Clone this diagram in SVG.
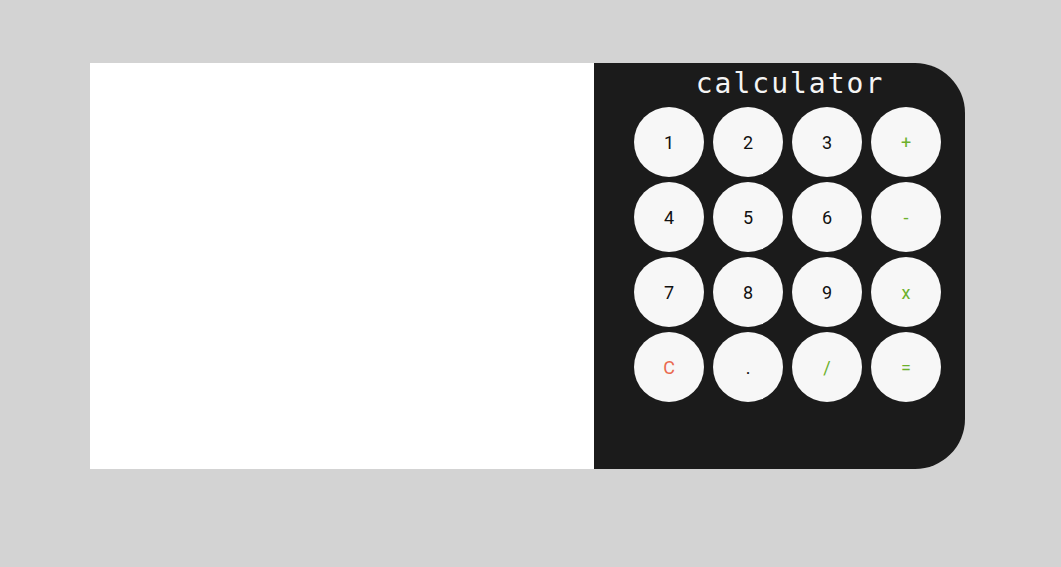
<svg xmlns="http://www.w3.org/2000/svg" width="1061" height="567" viewBox="0 0 1061 567">
<style>
.btn circle{fill:#f7f7f7}
.btn text{font-family:Roboto,"Liberation Sans",sans-serif;font-size:18px;text-anchor:middle;fill:#111}
.btn text.op{fill:#6cb12c}
.btn text.clr{fill:#ea6a4f}
.title{font-family:"DejaVu Sans Mono","Liberation Mono",monospace;font-size:28px;fill:#f4f4f4;text-anchor:middle;letter-spacing:2px}
</style>
<rect width="1061" height="567" fill="#d3d3d3"/>
<g id="display"><rect x="90" y="63" width="505" height="406" fill="#ffffff"/></g>
<g id="calculator">
<path d="M594 63 H915 A50 50 0 0 1 965 113 V419 A50 50 0 0 1 915 469 H594 Z" fill="#1b1b1b"/>
<text class="title" x="790" y="93">calculator</text>
</g>
<g id="b1" class="btn"><circle cx="669" cy="142" r="35"/><text x="669" y="149">1</text></g>
<g id="b2" class="btn"><circle cx="748" cy="142" r="35"/><text x="748" y="149">2</text></g>
<g id="b3" class="btn"><circle cx="827" cy="142" r="35"/><text x="827" y="149">3</text></g>
<g id="bplus" class="btn"><circle cx="906" cy="142" r="35"/><text class="op" x="906" y="149">+</text></g>
<g id="b4" class="btn"><circle cx="669" cy="217" r="35"/><text x="669" y="224">4</text></g>
<g id="b5" class="btn"><circle cx="748" cy="217" r="35"/><text x="748" y="224">5</text></g>
<g id="b6" class="btn"><circle cx="827" cy="217" r="35"/><text x="827" y="224">6</text></g>
<g id="bminus" class="btn"><circle cx="906" cy="217" r="35"/><text class="op" x="906" y="224">-</text></g>
<g id="b7" class="btn"><circle cx="669" cy="292" r="35"/><text x="669" y="299">7</text></g>
<g id="b8" class="btn"><circle cx="748" cy="292" r="35"/><text x="748" y="299">8</text></g>
<g id="b9" class="btn"><circle cx="827" cy="292" r="35"/><text x="827" y="299">9</text></g>
<g id="bmul" class="btn"><circle cx="906" cy="292" r="35"/><text class="op" x="906" y="299">x</text></g>
<g id="bclear" class="btn"><circle cx="669" cy="367" r="35"/><text class="clr" x="669" y="374">C</text></g>
<g id="bdot" class="btn"><circle cx="748" cy="367" r="35"/><text x="748" y="374">.</text></g>
<g id="bdiv" class="btn"><circle cx="827" cy="367" r="35"/><text class="op" x="827" y="374">/</text></g>
<g id="beq" class="btn"><circle cx="906" cy="367" r="35"/><text class="op" x="906" y="374">=</text></g>
<g id="connectors"/>
</svg>
